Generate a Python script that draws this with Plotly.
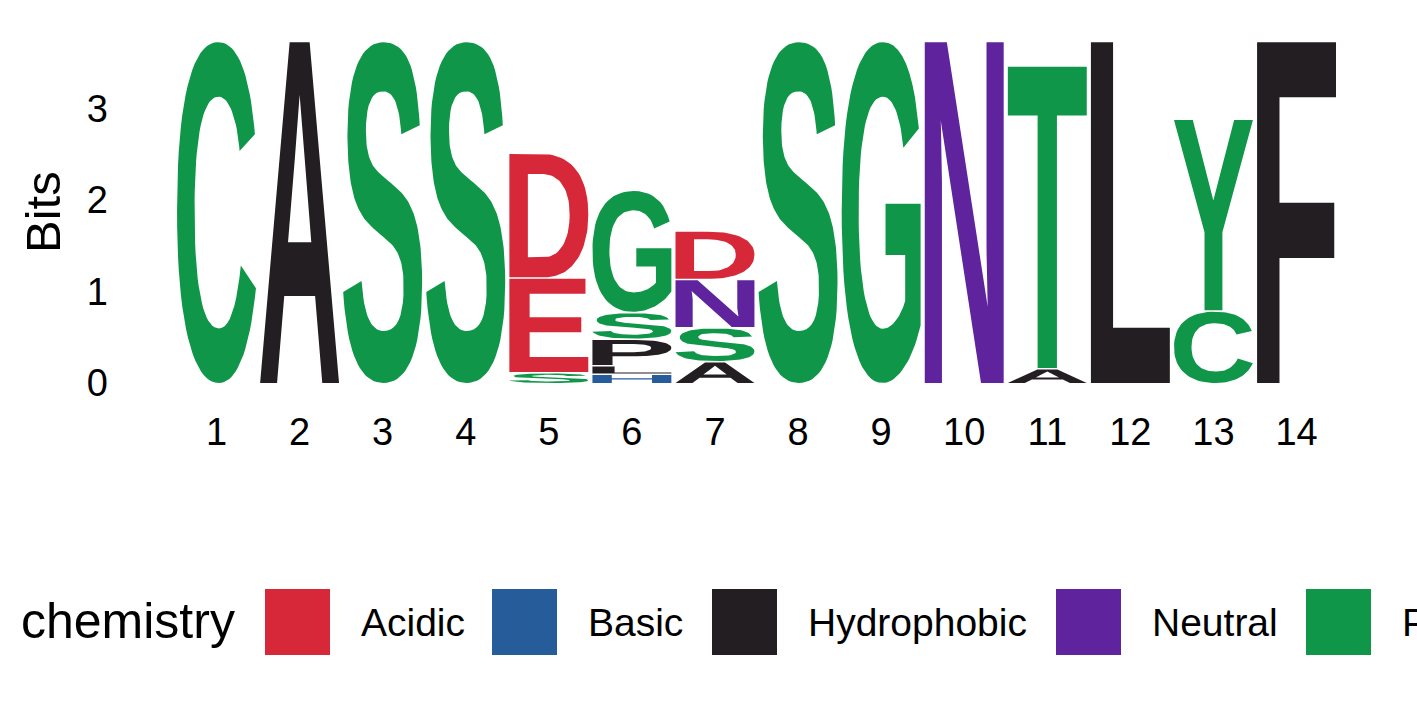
import struct, glob, os, subprocess
import plotly.graph_objects as go

# ---------------- data ----------------
POSITIONS = list(range(1, 15))
# letters stacked bottom -> top at each position, with their heights in bits
STACK_LETTERS = [
    ["C"], ["A"], ["S"], ["S"],
    ["S", "E", "D"],
    ["H", "L", "P", "S", "G"],
    ["A", "S", "N", "D"],
    ["S"], ["G"], ["N"],
    ["A", "T"],
    ["L"],
    ["C", "Y"],
    ["F"],
]
STACK_BITS = [
    [3.725], [3.725], [3.725], [3.725],
    [0.104, 1.036, 1.363],
    [0.087, 0.093, 0.290, 0.292, 1.336],
    [0.224, 0.372, 0.528, 0.530],
    [3.725], [3.725], [3.725],
    [0.148, 3.309],
    [3.725],
    [0.779, 2.095],
    [3.725],
]
Y_TICKS = [0, 1, 2, 3]
GROUP_NAMES = ["Acidic", "Basic", "Hydrophobic", "Neutral", "Polar"]
GROUP_COLORS = ["#D62839", "#255C99", "#221E22", "#5E239D", "#109648"]
GROUP_LETTERS = ["DE", "KRH", "AVLIPWFM", "QN", "GSTYC"]
LEGEND_TITLE = "chemistry"
Y_TITLE = "Bits"

# ---------------- layout constants ----------------
W_FIG, H_FIG = 1417, 708
ML, MR, MT, MB = 175, 80, 30, 308
X1_PX = 216.5        # pixel of position 1
PX_PER_POS = 83.08
Y0_PX = 383.0        # pixel of 0 bits
PX_PER_BIT = 91.5
LETTER_W = 0.95
LETTER_GAP = 0.016
FONT_TXT = "Liberation Sans, Arial, Helvetica, sans-serif"


# ---------------- minimal TrueType glyph reader ----------------
def find_font_file():
    names = ["LiberationSans-Bold.ttf", "Arimo-Bold.ttf", "DejaVuSans-Bold.ttf",
             "Roboto-Bold.ttf", "LiberationSans-Regular.ttf", "DejaVuSans.ttf"]
    roots = ["/usr/share/fonts", "/usr/local/share/fonts",
             os.path.expanduser("~/.fonts"), os.path.expanduser("~/.local/share/fonts")]
    for n in names:
        for r in roots:
            hits = glob.glob(os.path.join(r, "**", n), recursive=True)
            if hits:
                return hits[0]
    try:
        out = subprocess.run(["fc-match", "-f", "%{file}", "Liberation Sans:bold"],
                             capture_output=True, text=True).stdout.strip()
        if out and out.lower().endswith(".ttf"):
            return out
    except Exception:
        pass
    for r in roots:
        hits = glob.glob(os.path.join(r, "**", "*.ttf"), recursive=True)
        if hits:
            return hits[0]
    return None


class TTF:
    def __init__(self, path):
        b = open(path, "rb").read()
        self.b = b
        n = struct.unpack(">H", b[4:6])[0]
        self.t = {}
        for i in range(n):
            tag, _, off, ln = struct.unpack(">4sIII", b[12 + 16 * i:28 + 16 * i])
            self.t[tag.decode("latin1")] = off
        ho = self.t["head"]
        self.locfmt = struct.unpack(">h", b[ho + 50:ho + 52])[0]
        mo = self.t["maxp"]
        ng = struct.unpack(">H", b[mo + 4:mo + 6])[0]
        lo = self.t["loca"]
        if self.locfmt == 0:
            self.loca = [2 * v for v in struct.unpack(">%dH" % (ng + 1), b[lo:lo + 2 * (ng + 1)])]
        else:
            self.loca = list(struct.unpack(">%dI" % (ng + 1), b[lo:lo + 4 * (ng + 1)]))

    def gid(self, ch):
        b = self.b
        co = self.t["cmap"]
        n = struct.unpack(">H", b[co + 2:co + 4])[0]
        o = None
        for i in range(n):
            pid, eid, off = struct.unpack(">HHI", b[co + 4 + 8 * i:co + 12 + 8 * i])
            fmt = struct.unpack(">H", b[co + off:co + off + 2])[0]
            if fmt == 4 and pid in (0, 3):
                o = co + off
                break
        segx2 = struct.unpack(">H", b[o + 6:o + 8])[0]
        seg = segx2 // 2
        ends = struct.unpack(">%dH" % seg, b[o + 14:o + 14 + segx2])
        starts = struct.unpack(">%dH" % seg, b[o + 16 + segx2:o + 16 + 2 * segx2])
        deltas = struct.unpack(">%dh" % seg, b[o + 16 + 2 * segx2:o + 16 + 3 * segx2])
        rp = o + 16 + 3 * segx2
        roffs = struct.unpack(">%dH" % seg, b[rp:rp + segx2])
        c = ord(ch)
        for s in range(seg):
            if starts[s] <= c <= ends[s]:
                if roffs[s] == 0:
                    return (c + deltas[s]) & 0xFFFF
                addr = rp + 2 * s + roffs[s] + 2 * (c - starts[s])
                g = struct.unpack(">H", b[addr:addr + 2])[0]
                return (g + deltas[s]) & 0xFFFF if g else 0
        return 0

    def contours(self, gid, depth=0):
        b = self.b
        go_ = self.t["glyf"]
        st = go_ + self.loca[gid]
        en = go_ + self.loca[gid + 1]
        if en <= st or depth > 5:
            return []
        nc = struct.unpack(">h", b[st:st + 2])[0]
        p = st + 10
        if nc >= 0:
            endpts = struct.unpack(">%dH" % nc, b[p:p + 2 * nc]); p += 2 * nc
            il = struct.unpack(">H", b[p:p + 2])[0]; p += 2 + il
            npts = endpts[-1] + 1 if nc else 0
            flags = []
            while len(flags) < npts:
                f = b[p]; p += 1
                flags.append(f)
                if f & 8:
                    r = b[p]; p += 1
                    flags.extend([f] * r)
            flags = flags[:npts]
            xs, v = [], 0
            for f in flags:
                if f & 2:
                    dv = b[p]; p += 1
                    v += dv if f & 16 else -dv
                elif not f & 16:
                    v += struct.unpack(">h", b[p:p + 2])[0]; p += 2
                xs.append(v)
            ys, v = [], 0
            for f in flags:
                if f & 4:
                    dv = b[p]; p += 1
                    v += dv if f & 32 else -dv
                elif not f & 32:
                    v += struct.unpack(">h", b[p:p + 2])[0]; p += 2
                ys.append(v)
            out, s = [], 0
            for e in endpts:
                out.append([(xs[i], ys[i], flags[i] & 1) for i in range(s, e + 1)])
                s = e + 1
            return out
        out = []
        while True:
            fl, cg = struct.unpack(">HH", b[p:p + 4]); p += 4
            if fl & 1:
                a1, a2 = struct.unpack(">hh", b[p:p + 4]); p += 4
            else:
                a1, a2 = struct.unpack(">bb", b[p:p + 2]); p += 2
            ma, mb, mc, md = 1.0, 0.0, 0.0, 1.0
            if fl & 8:
                ma = md = struct.unpack(">h", b[p:p + 2])[0] / 16384; p += 2
            elif fl & 0x40:
                ma, md = [q / 16384 for q in struct.unpack(">hh", b[p:p + 4])]; p += 4
            elif fl & 0x80:
                ma, mb, mc, md = [q / 16384 for q in struct.unpack(">hhhh", b[p:p + 8])]; p += 8
            dx, dy = (a1, a2) if fl & 2 else (0, 0)
            for cont in self.contours(cg, depth + 1):
                out.append([(ma * x + mc * y + dx, mb * x + md * y + dy, on) for x, y, on in cont])
            if not fl & 0x20:
                break
        return out


def flatten(pts, steps=10):
    if len(pts) < 2:
        return []
    k = next((i for i, q in enumerate(pts) if q[2]), None)
    if k is None:
        a, c = pts[0], pts[1]
        mid = ((a[0] + c[0]) / 2, (a[1] + c[1]) / 2, 1)
        seq = [mid] + pts[1:] + [pts[0]]
    else:
        seq = pts[k:] + pts[:k]
    exp = []
    m = len(seq)
    for i in range(m):
        a, c = seq[i], seq[(i + 1) % m]
        exp.append(a)
        if not a[2] and not c[2]:
            exp.append(((a[0] + c[0]) / 2, (a[1] + c[1]) / 2, 1))
    L = len(exp)
    cur = exp[0]
    out = [(cur[0], cur[1])]
    i = 1
    while i <= L:
        q = exp[i % L]
        if q[2]:
            out.append((q[0], q[1])); cur = q; i += 1
        else:
            r = exp[(i + 1) % L]
            for s in range(1, steps + 1):
                t = s / steps
                out.append(((1 - t) ** 2 * cur[0] + 2 * (1 - t) * t * q[0] + t * t * r[0],
                            (1 - t) ** 2 * cur[1] + 2 * (1 - t) * t * q[1] + t * t * r[1]))
            cur = r; i += 2
    return out


def signed_area(poly):
    s = 0.0
    for i in range(len(poly)):
        x1, y1 = poly[i]
        x2, y2 = poly[(i + 1) % len(poly)]
        s += x1 * y2 - x2 * y1
    return s / 2


FONT_PATH = find_font_file()
FONT = TTF(FONT_PATH) if FONT_PATH else None
_glyph_cache = {}


def glyph(ch):
    """returns (outer polygons, hole polygons, bbox) in font units"""
    if ch in _glyph_cache:
        return _glyph_cache[ch]
    polys = []
    if FONT is not None:
        polys = [flatten(c) for c in FONT.contours(FONT.gid(ch))]
        polys = [p for p in polys if len(p) > 2]
    if not polys:
        polys = [[(0, 0), (0, 1), (1, 1), (1, 0)]]
    xs = [x for p in polys for x, _ in p]
    ys = [y for p in polys for _, y in p]
    bbox = (min(xs), max(xs), min(ys), max(ys))
    areas = [signed_area(p) for p in polys]
    ref = max(areas, key=abs)
    outer = [p for p, a in zip(polys, areas) if a * ref > 0]
    holes = [p for p, a in zip(polys, areas) if a * ref <= 0]
    _glyph_cache[ch] = (outer, holes, bbox)
    return _glyph_cache[ch]


def to_xy(polys, bbox, xc, y0, y1):
    xmin, xmax, ymin, ymax = bbox
    X, Y = [], []
    for p in polys:
        px_ = [xc - LETTER_W / 2 + (x - xmin) / (xmax - xmin) * LETTER_W for x, _ in p]
        py_ = [y0 + (y - ymin) / (ymax - ymin) * (y1 - y0) for _, y in p]
        X += px_ + [px_[0], None]
        Y += py_ + [py_[0], None]
    return X, Y


def color_of(ch):
    for letters, col in zip(GROUP_LETTERS, GROUP_COLORS):
        if ch in letters:
            return col
    return "#888888"


# ---------------- figure ----------------
fig = go.Figure()
for pos, letters, bits in zip(POSITIONS, STACK_LETTERS, STACK_BITS):
    base = 0.0
    for j, (ch, h) in enumerate(zip(letters, bits)):
        y0 = base + (LETTER_GAP if j > 0 else 0.0)
        y1 = base + h
        base += h
        outer, holes, bbox = glyph(ch)
        X, Y = to_xy(outer, bbox, pos, y0, y1)
        fig.add_trace(go.Scatter(x=X, y=Y, mode="lines", fill="toself",
                                 fillcolor=color_of(ch), line=dict(width=0, color=color_of(ch)),
                                 hoverinfo="skip", showlegend=False))
        if holes:
            X, Y = to_xy(holes, bbox, pos, y0, y1)
            fig.add_trace(go.Scatter(x=X, y=Y, mode="lines", fill="toself",
                                     fillcolor="white", line=dict(width=0, color="white"),
                                     hoverinfo="skip", showlegend=False))

PW = W_FIG - ML - MR
PH = H_FIG - MT - MB
xr = [1 - (X1_PX - ML) / PX_PER_POS, 1 + (W_FIG - MR - X1_PX) / PX_PER_POS]
yr = [(Y0_PX - (H_FIG - MB)) / PX_PER_BIT, (Y0_PX - MT) / PX_PER_BIT]


def px(xp):
    return (xp - ML) / PW


def py(yp):
    return (H_FIG - MB - yp) / PH


shapes, annotations = [], []
# y title
annotations.append(dict(text=Y_TITLE, x=px(43), y=py(212), xref="paper", yref="paper",
                        textangle=-90, showarrow=False, xanchor="center", yanchor="middle",
                        font=dict(size=49, color="black", family=FONT_TXT)))
# legend
annotations.append(dict(text=LEGEND_TITLE, x=px(19), y=py(621), xref="paper", yref="paper",
                        showarrow=False, xanchor="left", yanchor="middle",
                        font=dict(size=50, color="black", family=FONT_TXT)))
SWATCH_X = [265, 492, 712, 1056, 1306]
LABEL_X = [359, 586, 806, 1150, 1400]
for name, col, sx, lx in zip(GROUP_NAMES, GROUP_COLORS, SWATCH_X, LABEL_X):
    shapes.append(dict(type="rect", xref="paper", yref="paper",
                       x0=px(sx), x1=px(sx + 65), y0=py(655), y1=py(589),
                       fillcolor=col, line=dict(width=0)))
    annotations.append(dict(text=name, x=px(lx), y=py(622), xref="paper", yref="paper",
                            showarrow=False, xanchor="left", yanchor="middle",
                            font=dict(size=39, color="black", family=FONT_TXT)))

fig.update_layout(
    width=W_FIG, height=H_FIG,
    margin=dict(l=ML, r=MR, t=MT, b=MB, pad=0),
    paper_bgcolor="white", plot_bgcolor="white",
    showlegend=False,
    shapes=shapes, annotations=annotations,
    xaxis=dict(range=xr, tickvals=POSITIONS, ticktext=[str(p) for p in POSITIONS],
               showgrid=False, zeroline=False, showline=False, ticks="",
               tickfont=dict(size=38, color="black", family=FONT_TXT),
               ticklabelstandoff=6, fixedrange=True),
    yaxis=dict(range=yr, tickvals=Y_TICKS, ticktext=[str(t) for t in Y_TICKS],
               showgrid=False, zeroline=False, showline=False, ticks="",
               tickfont=dict(size=38, color="black", family=FONT_TXT),
               ticklabelstandoff=66, fixedrange=True),
)
fig.write_html("out.html", config={"displayModeBar": False},
               post_script="document.body.style.margin='0';document.body.style.overflow='hidden';")
